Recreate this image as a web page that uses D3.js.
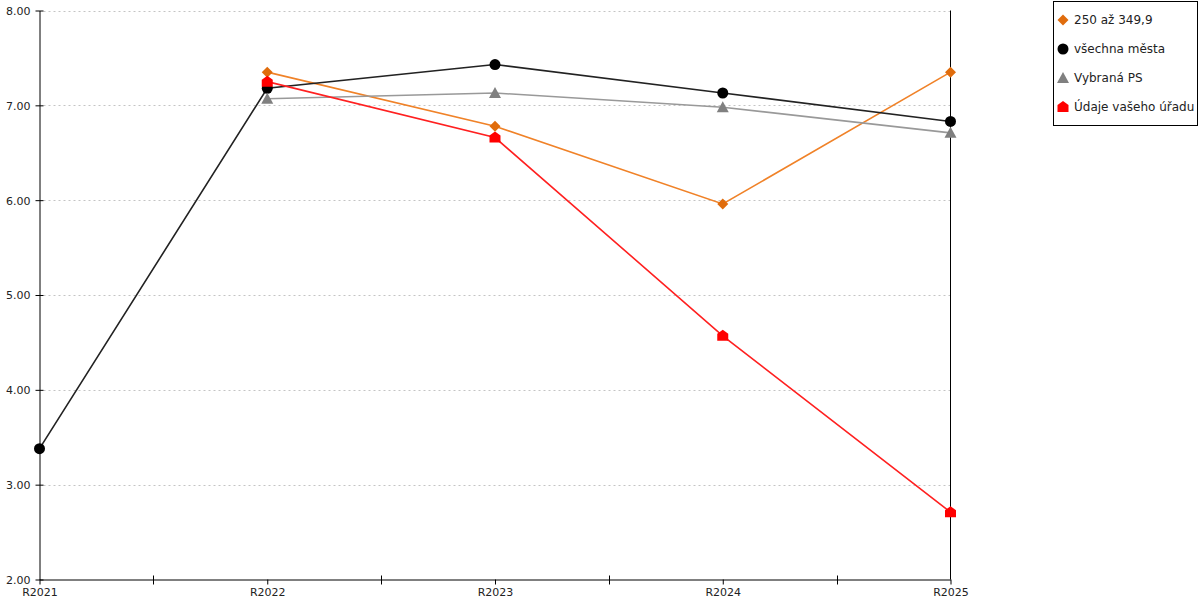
<!DOCTYPE html>
<html lang="cs">
<head>
<meta charset="UTF-8">
<title>Graf</title>
<script src="https://d3js.org/d3.v7.min.js"></script>
<style>
    body { margin: 0; background: #fff; }
    text { font-family: "DejaVu Sans", Verdana, sans-serif; fill: #222; }
    .tick-label { font-size: 11px; }
    .legend-label { font-size: 12px; }
</style>
</head>
<body>
<svg width="1200" height="600"></svg>
<script>
    // data
    var categories = ["R2021", "R2022", "R2023", "R2024", "R2025"];
    var yTicks = [2, 3, 4, 5, 6, 7, 8];
    var orangeValues = [null, 7.35, 6.78, 5.96, 7.35];
    var allCitiesValues = [3.38, 7.18, 7.43, 7.13, 6.83];
    var selectedPsValues = [null, 7.07, 7.13, 6.98, 6.71];
    var officeValues = [null, 7.25, 6.66, 4.57, 2.71];

    var series = [
        {name: "250 až 349,9", values: orangeValues, line: "#f08228", fill: "#e06c0c", symbol: "diamond"},
        {name: "všechna města", values: allCitiesValues, line: "#222", fill: "#000", symbol: "circle"},
        {name: "Vybraná PS", values: selectedPsValues, line: "#999", fill: "#808080", symbol: "triangle"},
        {name: "Údaje vašeho úřadu", values: officeValues, line: "#ff2020", fill: "#ff0000", symbol: "house"}
    ];

    var svg = d3.select("svg");
    var plotLeft = 39.5, plotRight = 950.5, plotTop = 10.5, plotBottom = 579.5;

    var x = d3.scalePoint().domain(categories).range([plotLeft, plotRight]);
    var y = d3.scaleLinear().domain([2, 8]).range([plotBottom, plotTop]);

    // grid
    svg.append("g").selectAll("line")
        .data(yTicks.slice(1))
        .join("line")
        .attr("x1", plotLeft + 4).attr("x2", plotRight)
        .attr("y1", d => Math.round(y(d)) + 0.5).attr("y2", d => Math.round(y(d)) + 0.5)
        .attr("stroke", "#c4c4c4").attr("stroke-dasharray", "2,3");

    // right border line
    svg.append("line")
        .attr("x1", plotRight).attr("x2", plotRight).attr("y1", plotTop).attr("y2", plotBottom)
        .attr("stroke", "#000");

    // y axis
    var yAxis = svg.append("g").attr("transform", "translate(" + plotLeft + ",0)")
        .call(d3.axisLeft(y).tickValues(yTicks).tickFormat(d3.format(".2f")).tickSizeInner(4).tickSizeOuter(0));
    yAxis.select(".domain").attr("stroke", "#000");
    yAxis.selectAll(".tick line").attr("x2", 4).attr("x1", -4).attr("stroke", "#000");
    yAxis.selectAll(".tick text").attr("class", "tick-label").attr("x", -9).attr("dy", "0.35em");

    // x axis
    var xAxis = svg.append("g").attr("transform", "translate(0," + plotBottom + ")")
        .call(d3.axisBottom(x).tickSizeInner(5).tickSizeOuter(0));
    xAxis.select(".domain").attr("stroke", "#000");
    xAxis.selectAll(".tick line").attr("stroke", "#000");
    xAxis.selectAll(".tick text").attr("class", "tick-label").attr("y", 9).attr("dy", "0.71em");

    var step = x.step();
    svg.append("g").selectAll("line")
        .data(categories.slice(1))
        .join("line")
        .attr("x1", d => Math.round(x(d) - step / 2) + 0.5)
        .attr("x2", d => Math.round(x(d) - step / 2) + 0.5)
        .attr("y1", plotBottom - 4).attr("y2", plotBottom + 5)
        .attr("stroke", "#000");

    function marker(sel, s) {
        if (s.symbol === "circle") {
            sel.append("circle").attr("r", 5.5).attr("fill", s.fill);
        } else if (s.symbol === "diamond") {
            sel.append("path").attr("d", "M0,-5.5L5.5,0L0,5.5L-5.5,0Z").attr("fill", s.fill);
        } else if (s.symbol === "triangle") {
            sel.append("path").attr("d", "M0,-6L6,5L-6,5Z").attr("fill", s.fill);
        } else {
            sel.append("path").attr("d", "M0,-6L5.5,-2L5.5,5L-5.5,5L-5.5,-2Z").attr("fill", s.fill);
        }
    }

    var line = d3.line()
        .defined(d => d.v !== null)
        .x(d => x(d.c))
        .y(d => y(d.v));

    series.forEach(function(s) {
        var pts = categories.map((c, i) => ({c: c, v: s.values[i]}));
        svg.append("path")
            .datum(pts)
            .attr("d", line)
            .attr("fill", "none")
            .attr("stroke", s.line)
            .attr("stroke-width", 1.6);
        pts.filter(d => d.v !== null).forEach(function(d) {
            var g = svg.append("g").attr("transform", "translate(" + x(d.c) + "," + y(d.v) + ")");
            marker(g, s);
        });
    });

    // legend
    var legend = svg.append("g");
    legend.append("rect")
        .attr("x", 1053.5).attr("y", 1.5).attr("width", 144).attr("height", 124)
        .attr("fill", "#fff").attr("stroke", "#000");
    series.forEach(function(s, i) {
        var ly = 20 + i * 29;
        var g = legend.append("g").attr("transform", "translate(1063," + ly + ")");
        marker(g, s);
        legend.append("text")
            .attr("class", "legend-label")
            .attr("x", 1074).attr("y", ly)
            .attr("dy", "0.35em")
            .text(s.name);
    });
</script>
</body>
</html>
